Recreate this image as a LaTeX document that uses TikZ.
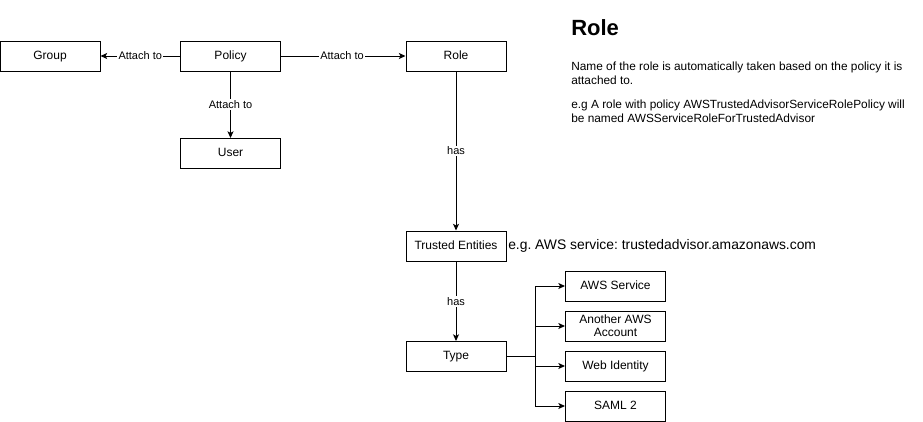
\documentclass[tikz,border=0pt]{standalone}
\usepackage{fontspec}
\setmainfont{Liberation Sans}
\usetikzlibrary{arrows.meta}
\frenchspacing
\begin{document}
\begin{tikzpicture}[x=0.75pt,y=-0.75pt,
  box/.style={draw,line width=0.75pt,minimum width=75pt,minimum height=22.5pt,inner sep=0pt,font=\fontsize{9}{10.5}\selectfont,align=center},
  onebox/.style={box,text height=6.6pt,text depth=1.6pt},
  conn/.style={draw,line width=0.75pt,-{Stealth[length=5pt,width=4.5pt,inset=1.2pt]}},
  lbl/.style={fill=white,inner sep=1pt,font=\fontsize{8.25}{9}\selectfont}]
\useasboundingbox (0,0) rectangle (923,421);
\node[onebox] (group) at (50,56) {Group};
\node[onebox] (policy) at (230.5,56) {Policy};
\node[onebox] (role) at (456,56) {Role};
\node[onebox] (user) at (230.5,153.5) {User};
\node[onebox] (trusted) at (456,246) {Trusted Entities};
\node[onebox] (type) at (456,356.5) {Type};
\node[onebox] (aws) at (615.5,286) {AWS Service};
\node[box,font=\fontsize{9}{10}\selectfont] (another) at (615.5,326) {Another AWS\\Account};
\node[onebox] (web) at (615.5,366) {Web Identity};
\node[onebox] (saml) at (615.5,406) {SAML 2};
\coordinate (br) at (535,356.5);
\draw[conn] (policy) -- node[lbl,pos=0.5] {Attach to} (group);
\draw[conn] (policy) -- node[lbl,pos=0.49] {Attach to} (role);
\draw[conn] (policy) -- node[lbl,pos=0.5] {Attach to} (user);
\draw[conn] (role) -- node[lbl,pos=0.5] {has} (trusted);
\draw[conn] (trusted) -- node[lbl,pos=0.5] {has} (type);
\draw[line width=0.75pt] (type.east) -- (br);
\draw[conn] (br) |- (aws.west);
\draw[conn] (br) |- (another.west);
\draw[conn] (br) |- (web.west);
\draw[conn] (br) |- (saml.west);
\node[anchor=west,inner sep=0pt,font=\fontsize{10.4}{12}\selectfont] (eg) at (508,245.5) {e.g. AWS service: trustedadvisor.amazonaws.com};
\node[anchor=north west,inner sep=0pt,font=\bfseries\fontsize{16.5}{18}\selectfont] (title) at (571,19) {Role};
\node[anchor=north west,inner sep=0pt,align=left,font=\fontsize{8.9}{10.3}\selectfont] (desc) at (571,62) {Name of the role is automatically taken based on the policy it is\\attached to.\\[8pt]e.g A role with policy AWSTrustedAdvisorServiceRolePolicy will\\be named AWSServiceRoleForTrustedAdvisor};
\end{tikzpicture}
\end{document}
